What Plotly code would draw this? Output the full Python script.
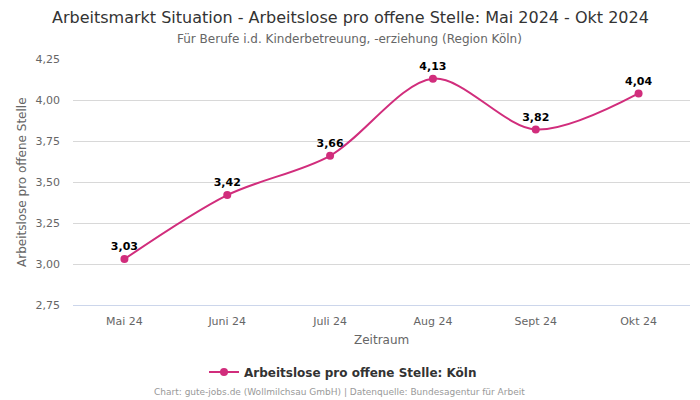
import plotly.graph_objects as go

categories = ["Mai 24", "Juni 24", "Juli 24", "Aug 24", "Sept 24", "Okt 24"]
values = [3.03, 3.42, 3.66, 4.13, 3.82, 4.04]
value_labels = ["3,03", "3,42", "3,66", "4,13", "3,82", "4,04"]
y_ticks = [2.75, 3.00, 3.25, 3.50, 3.75, 4.00, 4.25]
y_tick_labels = ["2,75", "3,00", "3,25", "3,50", "3,75", "4,00", "4,25"]

color = "#d12d7c"
font = "DejaVu Sans"

# page body has an 8px margin; figure is sized to fit the 700x400 window
OFF = 8
W, H = 700 - OFF, 400 - OFF
L, T = 73 - OFF, 59 - OFF
R = W - (690 - OFF)
B = H - (305 - OFF)
pw, ph = W - L - R, H - T - B

def px(xpix):
    return (xpix - OFF - L) / pw

def py(ypix):
    return (H - B - (ypix - OFF)) / ph

fig = go.Figure()
fig.add_trace(go.Scatter(
    x=categories, y=values,
    mode="lines+markers+text",
    line=dict(color=color, width=2, shape="spline", smoothing=0.9),
    marker=dict(color=color, size=8),
    text=value_labels,
    textposition="top center",
    textfont=dict(family=font, size=11, color="#000000", weight="bold"),
    name="Arbeitslose pro offene Stelle: Köln",
    cliponaxis=False,
))

fig.update_layout(
    width=W, height=H,
    margin=dict(l=L, r=R, t=T, b=B, autoexpand=False),
    paper_bgcolor="white", plot_bgcolor="white",
    font=dict(family=font, color="#666666", size=11),
    separators=",.",
    showlegend=True,
    legend=dict(
        orientation="h", x=px(343), xanchor="center", y=py(372), yanchor="middle",
        font=dict(family=font, size=12, color="#333333", weight="bold"),
        itemwidth=30,
    ),
    xaxis=dict(
        type="category", range=[-0.5, 5.5], automargin=False,
        showgrid=False, showline=True, linecolor="#ccd6eb",
        ticks="", ticklabelstandoff=6, tickfont=dict(size=11, color="#666666"),
    ),
    yaxis=dict(
        range=[2.75, 4.25], tickvals=y_ticks, ticktext=y_tick_labels, automargin=False,
        showgrid=True, gridcolor="#d8d8d8", zeroline=False,
        ticks="", ticklabelstandoff=12,
        tickfont=dict(size=11, color="#666666"),
    ),
)

fig.add_annotation(
    text="Arbeitsmarkt Situation - Arbeitslose pro offene Stelle: Mai 2024 - Okt 2024",
    xref="paper", yref="paper", x=px(350), y=py(17), xanchor="center", yanchor="middle",
    showarrow=False, font=dict(family=font, size=16, color="#333333"),
)
fig.add_annotation(
    text="Für Berufe i.d. Kinderbetreuung, -erziehung (Region Köln)",
    xref="paper", yref="paper", x=px(349), y=py(39), xanchor="center", yanchor="middle",
    showarrow=False, font=dict(family=font, size=12, color="#666666"),
)
fig.add_annotation(
    text="Zeitraum",
    xref="paper", yref="paper", x=px(381), y=py(340), xanchor="center", yanchor="middle",
    showarrow=False, font=dict(family=font, size=12, color="#666666"),
)
fig.add_annotation(
    text="Arbeitslose pro offene Stelle",
    xref="paper", yref="paper", x=px(22), y=py(182), xanchor="center", yanchor="middle",
    textangle=-90,
    showarrow=False, font=dict(family=font, size=12, color="#666666"),
)
fig.add_annotation(
    text="Chart: gute-jobs.de (Wollmilchsau GmbH) | Datenquelle: Bundesagentur für Arbeit",
    xref="paper", yref="paper", x=px(339), y=py(392), xanchor="center", yanchor="middle",
    showarrow=False, font=dict(family=font, size=9, color="#999999"),
)

fig.write_html("out.html")
